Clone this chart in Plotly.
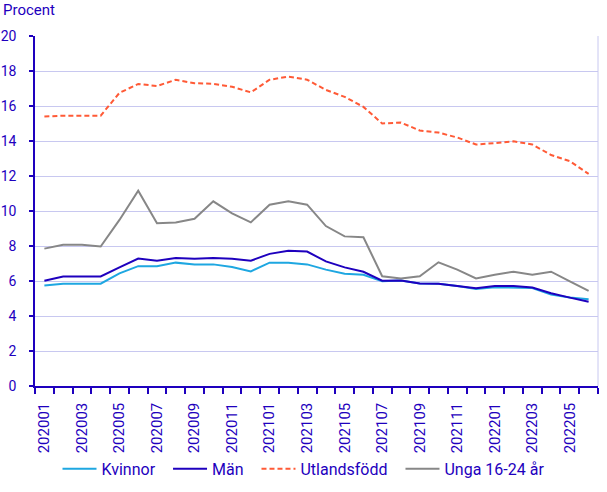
import plotly.graph_objects as go

months = ["202001","202002","202003","202004","202005","202006","202007","202008","202009","202010","202011","202012",
          "202101","202102","202103","202104","202105","202106","202107","202108","202109","202110","202111","202112",
          "202201","202202","202203","202204","202205","202206"]

kvinnor = [5.75, 5.85, 5.85, 5.85, 6.44, 6.85, 6.85, 7.05, 6.95, 6.95, 6.8, 6.55,
           7.05, 7.05, 6.95, 6.65, 6.42, 6.36, 5.98, 6.03, 5.86, 5.84, 5.72, 5.55,
           5.64, 5.64, 5.6, 5.22, 5.06, 4.96]
man = [6.02, 6.26, 6.26, 6.26, 6.78, 7.28, 7.16, 7.31, 7.27, 7.31, 7.27, 7.16,
       7.55, 7.73, 7.68, 7.12, 6.78, 6.53, 6.02, 6.03, 5.86, 5.84, 5.72, 5.58,
       5.72, 5.72, 5.63, 5.3, 5.05, 4.82]
utlandsfodd = [15.4, 15.45, 15.45, 15.45, 16.75, 17.26, 17.14, 17.5, 17.3, 17.27, 17.1, 16.78,
               17.5, 17.68, 17.5, 16.92, 16.52, 15.95, 15.0, 15.05, 14.6, 14.48, 14.2, 13.8,
               13.88, 13.98, 13.8, 13.2, 12.85, 12.12]
unga = [7.85, 8.07, 8.07, 7.97, 9.49, 11.16, 9.3, 9.35, 9.56, 10.55, 9.87, 9.35,
        10.36, 10.55, 10.36, 9.14, 8.55, 8.5, 6.27, 6.15, 6.27, 7.07, 6.65, 6.15,
        6.36, 6.53, 6.36, 6.53, 5.98, 5.43]

series = [
    ("Kvinnor", kvinnor, "#1EA7E1", "solid"),
    ("Män", man, "#1E00BE", "solid"),
    ("Utlandsfödd", utlandsfodd, "#FF5A36", "5px,3px"),
    ("Unga 16-24 år", unga, "#878787", "solid"),
]

TEXT = "#1E00BE"
FONT = "Roboto"
idx = list(range(len(months)))
PAD = "\u00a0\u00a0"

fig = go.Figure()
for k, (name, vals, col, dash) in enumerate(series):
    label = name + (PAD if k < len(series) - 1 else "")
    fig.add_trace(go.Scatter(x=idx, y=vals, name=label, mode="lines",
                             line=dict(color=col, width=2, dash=dash)))

fig.update_layout(
    width=607, height=492,
    margin=dict(l=35, r=9, t=36, b=106, autoexpand=False),
    paper_bgcolor="white", plot_bgcolor="white",
    font=dict(family=FONT, size=15, color=TEXT),
    legend=dict(orientation="h", xref="container", yref="container",
                x=0.5, xanchor="center", y=0.047, yanchor="middle",
                font=dict(family=FONT, size=16, color=TEXT), itemwidth=34,
                traceorder="normal", bgcolor="rgba(0,0,0,0)"),
    showlegend=True,
)

fig.update_xaxes(
    range=[-0.5, len(months) - 0.5],
    tickvals=idx[::2], ticktext=months[::2],
    tickangle=-90, ticks="", showgrid=False,
    showline=True, linecolor=TEXT, linewidth=1.5,
    tickfont=dict(family=FONT, size=15, color=TEXT),
    ticklabelstandoff=9, automargin=False,
    minor=dict(tickvals=[i - 0.5 for i in range(len(months) + 1)], ticks="outside",
               ticklen=6, tickcolor=TEXT, tickwidth=1.5, showgrid=False),
    zeroline=False,
)
fig.update_yaxes(
    range=[0, 20], dtick=2, tick0=0,
    showgrid=True, gridcolor="#C8C8F0", gridwidth=1,
    showline=True, linecolor=TEXT, linewidth=1.5,
    ticks="outside", ticklen=4, tickcolor=TEXT, tickwidth=1.5,
    tickfont=dict(family=FONT, size=14, color=TEXT),
    ticklabelstandoff=10, automargin=False,
    zeroline=False,
)

fig.add_shape(type="line", xref="paper", yref="paper", x0=1, x1=1, y0=0, y1=1,
              line=dict(color="#C8C8F0", width=1))

fig.add_annotation(text="Procent", xref="paper", yref="paper", x=0, y=1,
                   xanchor="left", yanchor="bottom", xshift=-34, yshift=15,
                   showarrow=False, font=dict(family=FONT, size=15, color=TEXT))

fig.write_html("out.html")
